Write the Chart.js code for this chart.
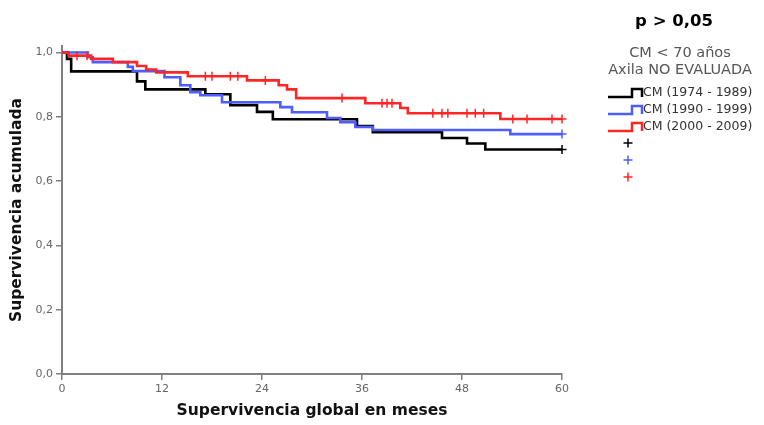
<!DOCTYPE html>
<html>
<head>
<meta charset="utf-8">
<script src="https://cdn.jsdelivr.net/npm/chart.js@4"></script>
<style>
  html, body { margin: 0; padding: 0; background: #fff; }
  #wrap { position: relative; width: 764px; height: 425px; }
  #chart { position: absolute; left: 0; top: 0; }
  .txt { position: absolute; font-family: 'DejaVu Sans', sans-serif; white-space: nowrap; }
  #pval { left: 594px; width: 160px; top: 11px; text-align: center; font-weight: bold; font-size: 16.5px; color: #000; }
  .sub { left: 590px; width: 180px; text-align: center; font-size: 14.5px; color: #555; }
  .lab { left: 643px; font-size: 12.5px; color: #333; }
  #marks { position: absolute; left: 0; top: 0; }
</style>
</head>
<body>
<div id="wrap">
  <canvas id="chart" width="764" height="425"></canvas>
  <div class="txt" id="pval">p &gt; 0,05</div>
  <div class="txt sub" style="top:44px">CM &lt; 70 años</div>
  <div class="txt sub" style="top:61px">Axila NO EVALUADA</div>
  <div class="txt lab" style="top:84px">CM (1974 - 1989)</div>
  <div class="txt lab" style="top:101px">CM (1990 - 1999)</div>
  <div class="txt lab" style="top:118px">CM (2000 - 2009)</div>
  <svg id="marks" width="764" height="425"></svg>
</div>
<script>
// curvas de supervivencia (meses, supervivencia acumulada)
const tiempos1974 = [0, 0.6, 1.1, 9.0, 10.0, 17.2, 20.2, 23.4, 25.3, 35.4, 37.3, 45.6, 48.6, 50.8, 60];
const surv1974    = [1.0, 0.98, 0.941, 0.91, 0.885, 0.87, 0.836, 0.815, 0.792, 0.771, 0.752, 0.734, 0.717, 0.698, 0.698];

const tiempos1990 = [0, 3.1, 3.7, 7.9, 8.5, 12.3, 14.2, 15.4, 16.6, 19.2, 26.2, 27.6, 31.8, 33.4, 35.2, 37.3, 53.8, 60];
const surv1990    = [1.0, 0.985, 0.97, 0.955, 0.942, 0.923, 0.898, 0.876, 0.867, 0.845, 0.83, 0.814, 0.796, 0.783, 0.768, 0.759, 0.746, 0.746];

const tiempos2000 = [0, 0.8, 3.5, 6.1, 9.0, 10.1, 11.3, 15.1, 22.2, 26.0, 27.0, 28.1, 36.4, 40.6, 41.5, 52.6, 60];
const surv2000    = [1.0, 0.99, 0.98, 0.97, 0.958, 0.947, 0.938, 0.926, 0.913, 0.898, 0.885, 0.858, 0.842, 0.827, 0.811, 0.793, 0.793];

// casos censurados
const cens1974 = [60];
const cens1990 = [60];
const cens2000 = [1.8, 3.0, 17.2, 18.0, 20.2, 21.1, 24.4, 33.6, 38.4, 39.0, 39.6, 44.5, 45.6, 46.3, 48.6, 49.6, 50.6, 54.1, 55.8, 58.8, 60];

const ticksX = [0, 12, 24, 36, 48, 60];
const ticksY = [0, 0.2, 0.4, 0.6, 0.8, 1.0];

const NEGRO = '#000000';
const AZUL = '#4f5cff';
const ROJO = '#ff2626';

function curva(ts, ss) {
    return ts.map((t, i) => ({ x: t, y: ss[i] }));
}

// valor de la curva escalonada en t
function nivel(ts, ss, t) {
    let v = ss[0];
    for (let i = 0; i < ts.length; i++) {
        if (ts[i] <= t) v = ss[i];
    }
    return v;
}

function censuras(cs, ts, ss) {
    return cs.map(t => ({ x: t, y: nivel(ts, ss, t) }));
}

function lineaKM(data, color, order) {
    return {
        data, borderColor: color, borderWidth: 2.6, stepped: 'before',
        pointRadius: 0, fill: false, clip: false, order
    };
}

function cruces(data, color, order) {
    return {
        data, showLine: false, pointStyle: 'cross', pointRadius: 4.5,
        borderColor: color, borderWidth: 1.5, clip: false, order
    };
}

const coma = v => v.toFixed(1).replace('.', ',');

new Chart(document.getElementById('chart'), {
    type: 'line',
    data: {
        datasets: [
            lineaKM(curva(tiempos1974, surv1974), NEGRO, 5),
            lineaKM(curva(tiempos1990, surv1990), AZUL, 3),
            lineaKM(curva(tiempos2000, surv2000), ROJO, 1),
            cruces(censuras(cens1974, tiempos1974, surv1974), NEGRO, 4),
            cruces(censuras(cens1990, tiempos1990, surv1990), AZUL, 2),
            cruces(censuras(cens2000, tiempos2000, surv2000), ROJO, 0)
        ]
    },
    options: {
        responsive: false,
        animation: false,
        layout: { padding: { top: 46, right: 202, left: 0, bottom: 0 } },
        plugins: { legend: { display: false }, tooltip: { enabled: false } },
        scales: {
            x: {
                type: 'linear', min: 0, max: 60,
                afterBuildTicks: s => { s.ticks = ticksX.map(v => ({ value: v })); },
                afterFit: s => { s.height = 51; },
                grid: { drawOnChartArea: false, drawTicks: true, tickLength: 6, color: '#808080', lineWidth: 1.5 },
                border: { display: true, color: '#808080', width: 2 },
                ticks: { color: '#666', padding: 3, font: { family: 'DejaVu Sans', size: 11 } },
                title: {
                    display: true, text: 'Supervivencia global en meses', color: '#111',
                    font: { family: 'DejaVu Sans', size: 15.5, weight: 'bold' }, padding: { top: 0, bottom: 5 }
                }
            },
            y: {
                type: 'linear', min: 0, max: 1.02,
                afterBuildTicks: s => { s.ticks = ticksY.map(v => ({ value: v })); },
                afterFit: s => { s.width = 62; },
                grid: { drawOnChartArea: false, drawTicks: true, tickLength: 6, color: '#808080', lineWidth: 1.5 },
                border: { display: true, color: '#808080', width: 2 },
                ticks: { color: '#666', padding: 3, font: { family: 'DejaVu Sans', size: 11 }, callback: v => coma(v) },
                title: {
                    display: true, text: 'Supervivencia acumulada', color: '#111',
                    font: { family: 'DejaVu Sans', size: 15.5, weight: 'bold' }, padding: { top: 8, bottom: 0 }
                }
            }
        }
    }
});

// iconos de la leyenda
const svg = document.getElementById('marks');
const colores = [NEGRO, AZUL, ROJO];
let html = '';
colores.forEach((c, i) => {
    const y = 97 + i * 17;
    html += `<path d="M608,${y} H632 V${y - 8} H642 V${y}" fill="none" stroke="${c}" stroke-width="2.5"/>`;
    const cy = 143 + i * 17;
    html += `<path d="M623.5,${cy} H632.5 M628,${cy - 4.5} V${cy + 4.5}" stroke="${c}" stroke-width="1.5"/>`;
});
svg.innerHTML = html;
</script>
</body>
</html>
